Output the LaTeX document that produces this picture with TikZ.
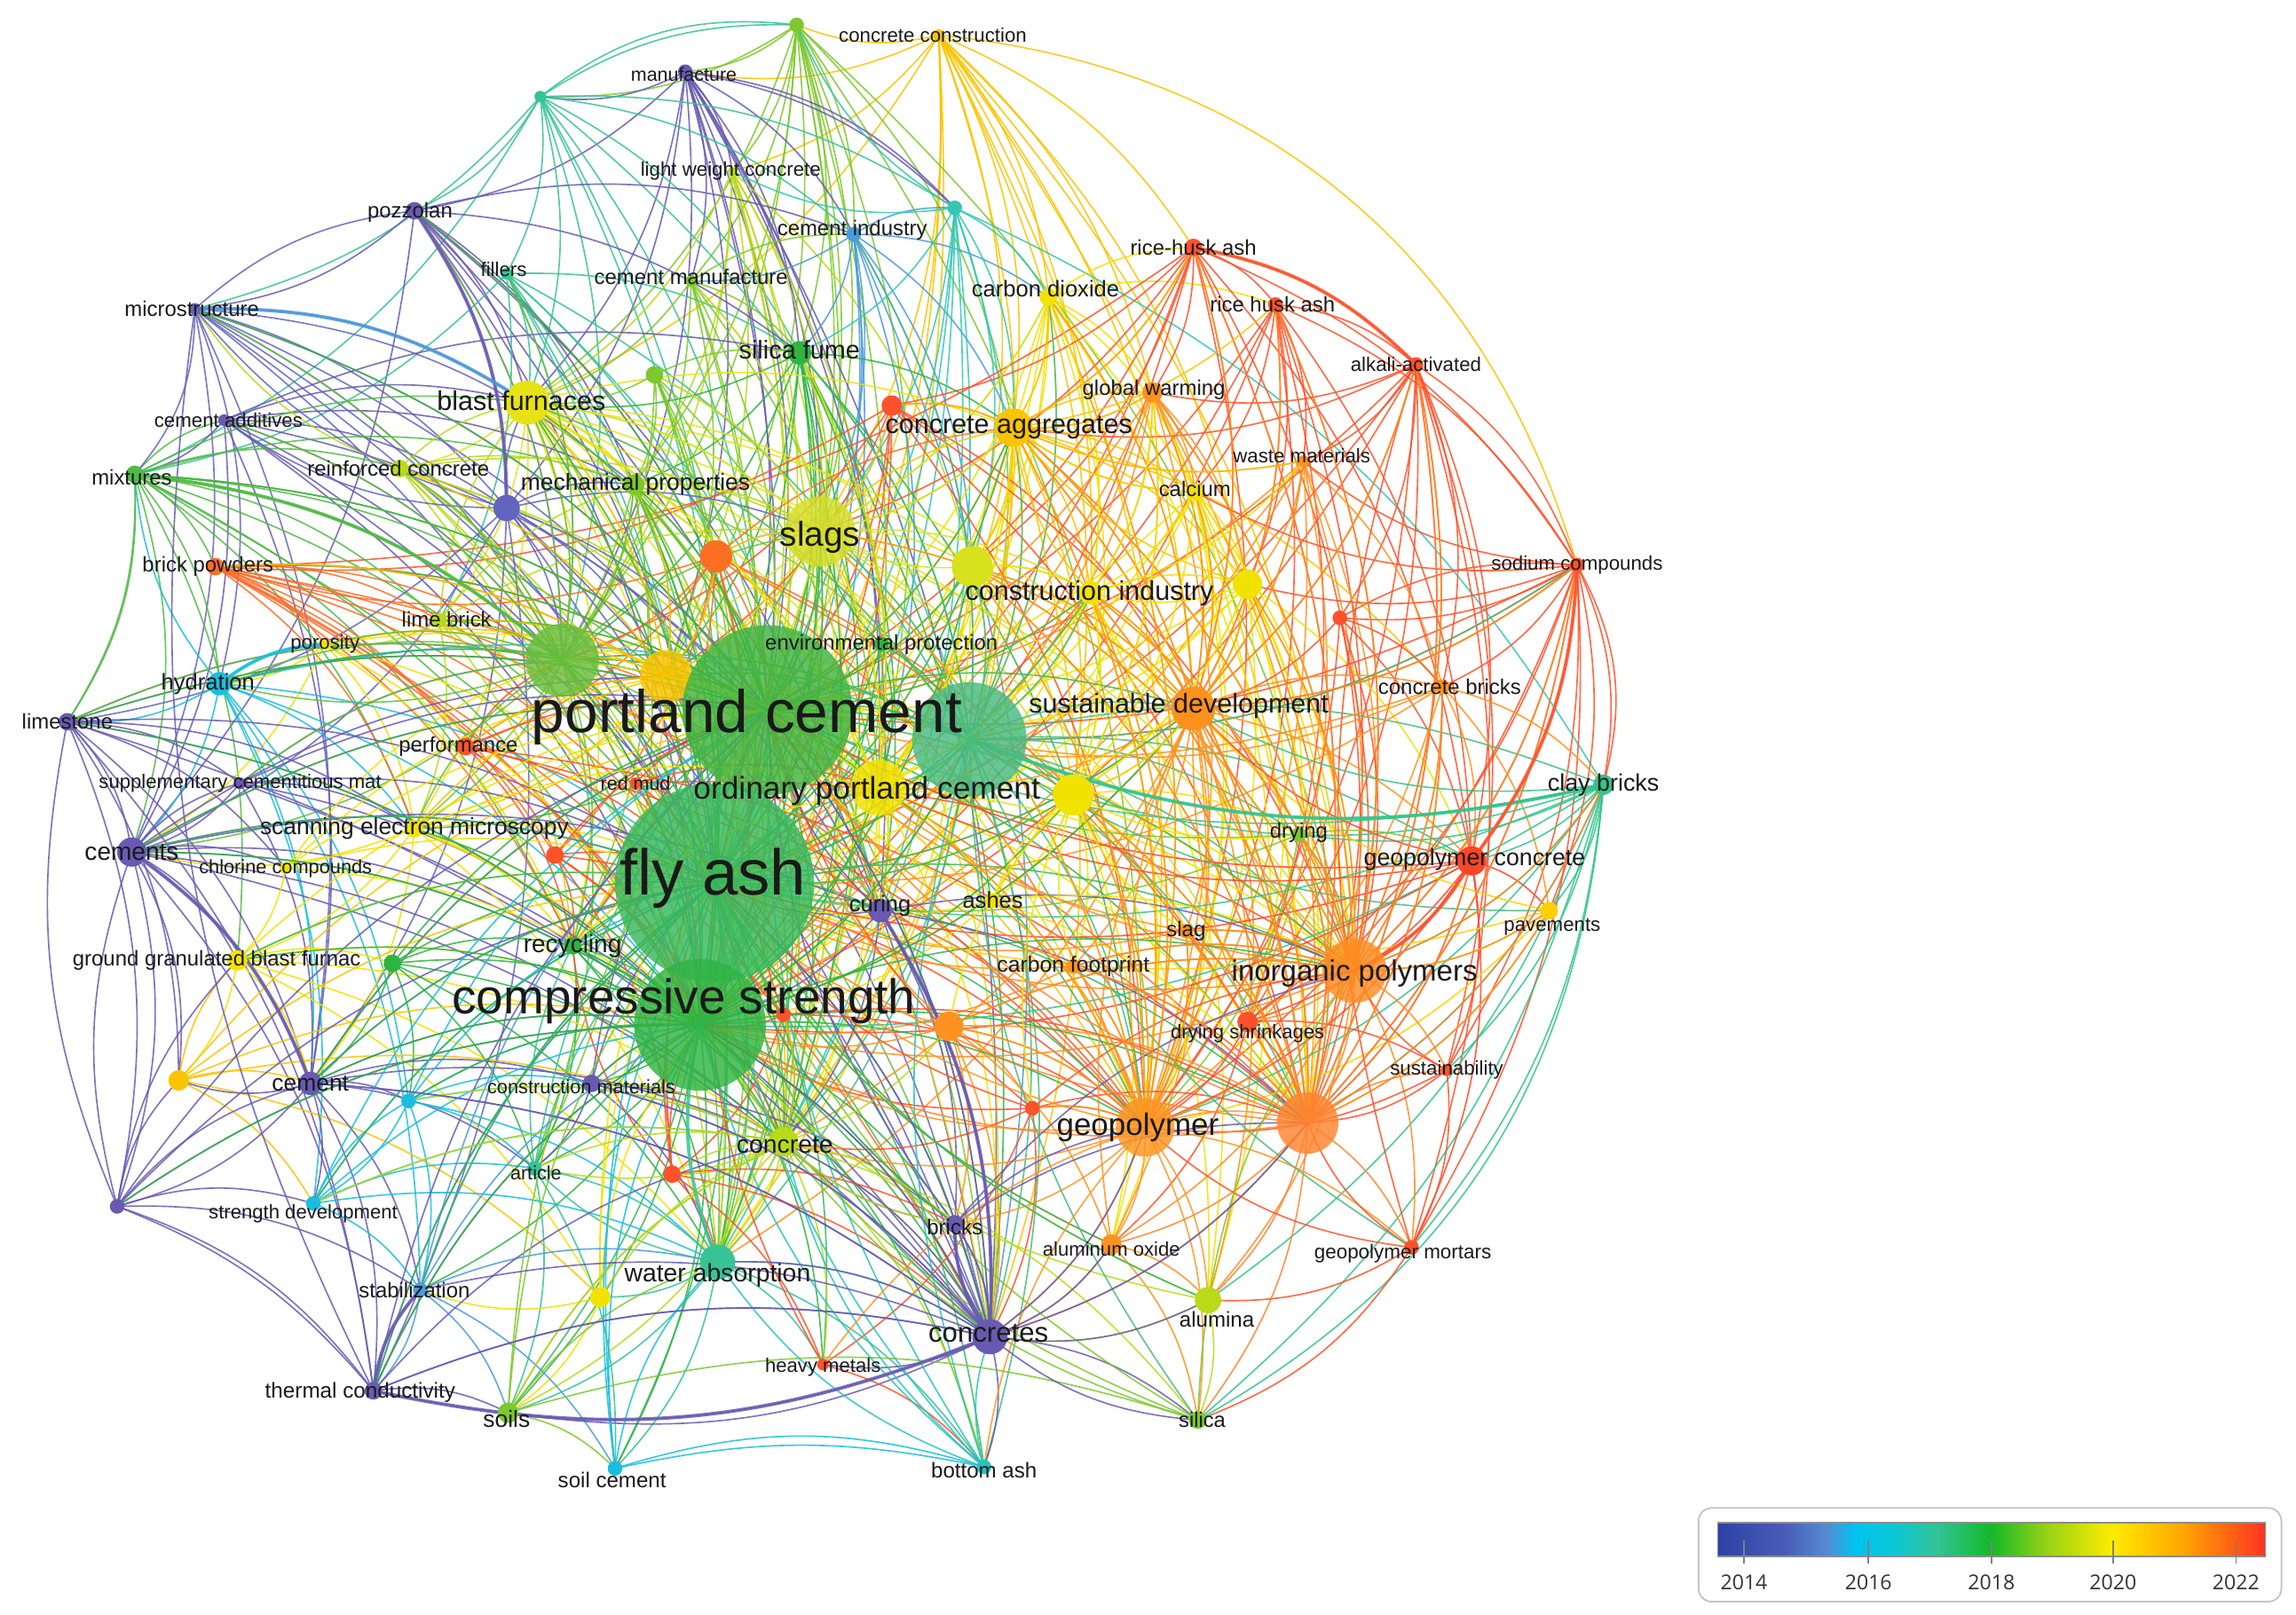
\documentclass[tikz,border=0pt]{standalone}
\usepackage{fontspec}
\setmainfont{Liberation Sans}
\newfontfamily\legfont{Open Sans}
\pgfdeclarelayer{edgelayer}
\pgfdeclarelayer{labellayer}
\pgfsetlayers{edgelayer,main,labellayer}
% palette
\definecolor{k14}{RGB}{104,90,178}
\definecolor{k14b}{RGB}{98,100,192}
\definecolor{k15}{RGB}{75,155,220}
\definecolor{k16}{RGB}{25,190,222}
\definecolor{k17}{RGB}{55,195,150}
\definecolor{k18}{RGB}{45,180,65}
\definecolor{k185}{RGB}{125,200,45}
\definecolor{k19}{RGB}{185,218,25}
\definecolor{k20}{RGB}{242,226,0}
\definecolor{k205}{RGB}{250,196,0}
\definecolor{k21}{RGB}{255,146,30}
\definecolor{k22}{RGB}{255,82,42}
\definecolor{qpc}{RGB}{65,180,65}
\definecolor{qfa}{RGB}{55,184,92}
\definecolor{qcs}{RGB}{48,180,68}
\definecolor{qtt}{RGB}{72,186,128}
\definecolor{qsl}{RGB}{215,222,40}
\definecolor{qg2}{RGB}{105,190,60}
\definecolor{qbf}{RGB}{232,226,20}
\definecolor{qo4}{RGB}{255,132,48}
\definecolor{qgp}{RGB}{255,150,35}
\definecolor{qip}{RGB}{255,140,35}
\definecolor{qmx}{RGB}{80,186,70}
\definecolor{qbp}{RGB}{255,108,40}
\definecolor{qcbk}{RGB}{50,196,140}
\definecolor{qgc}{RGB}{255,70,40}
\definecolor{qpv}{RGB}{255,208,0}
\definecolor{qba}{RGB}{40,196,190}
\definecolor{qtc}{RGB}{50,200,180}
\definecolor{qy1}{RGB}{215,225,30}
\definecolor{qo2}{RGB}{255,110,35}
% legend gradient
\definecolor{lg0}{RGB}{45,65,165}
\definecolor{lg1}{RGB}{72,92,182}
\definecolor{lg2}{RGB}{85,140,210}
\definecolor{lg3}{RGB}{0,195,240}
\definecolor{lg4}{RGB}{10,200,215}
\definecolor{lg5}{RGB}{50,195,150}
\definecolor{lg6}{RGB}{20,185,40}
\definecolor{lg7}{RGB}{150,210,20}
\definecolor{lg8}{RGB}{255,235,0}
\definecolor{lg9}{RGB}{255,165,0}
\definecolor{lg10}{RGB}{255,50,35}
\pgfdeclarehorizontalshading{legbar}{100bp}{color(0bp)=(lg0); color(25bp)=(lg0); color(31bp)=(lg1); color(35bp)=(lg2); color(37.5bp)=(lg3); color(41bp)=(lg4); color(45bp)=(lg5); color(50bp)=(lg6); color(55bp)=(lg7); color(61bp)=(lg8); color(67.5bp)=(lg9); color(75bp)=(lg10); color(100bp)=(lg10)}
\tikzset{
  nd/.style 2 args={circle,inner sep=0pt,draw=none,fill=#1,minimum size=#2},
  big/.style={fill opacity=0.82},
  lab/.style={inner sep=0pt,text=black!90},
  fs/.style={font=\fontsize{#1}{#1}\selectfont},
  edge/.style={line width=1pt,opacity=0.85},
  thick edge/.style={line width=2.4pt,opacity=0.85}
}
\begin{document}
\begin{tikzpicture}[x=1pt,y=-1pt]
\useasboundingbox (0,0) rectangle (1568,1103);
\begin{pgfonlayer}{edgelayer}
\fill[white] (0,0) rectangle (1568,1103);
\end{pgfonlayer}
% ---------- nodes (circles) ----------
\node[nd={k205}{8}] (cc) at (641,24) {};
\node[nd={k185}{10}] (t1) at (544,17) {};
\node[nd={k14}{10}] (mf) at (468,49) {};
\node[nd={k17}{8}] (tn) at (369,66) {};
\node[nd={k19}{6}] (lw) at (500,117) {};
\node[nd={k15}{10}] (ci) at (583,160) {};
\node[nd={qtc}{10}] (tc) at (652,142) {};
\node[nd={k14}{12}] (pz) at (283,144) {};
\node[nd={k17}{8}] (fi) at (346,187) {};
\node[nd={k185}{8}] (cm) at (472,192) {};
\node[nd={k14b}{8}] (ms) at (133,211) {};
\node[nd={k20}{12}] (cd) at (716,203) {};
\node[nd={k22}{12}] (rha) at (815,169) {};
\node[nd={k22}{10}] (rhb) at (871,208) {};
\node[nd={k18}{16}] (sf) at (546,241) {};
\node[nd={k22}{10}] (aa) at (967,249) {};
\node[nd={qbf}{30}] (bf) at (360,275) {};
\node[nd={k14}{8}] (ca) at (153,287) {};
\node[nd={k205}{26}] (cag) at (692,292) {};
\node[nd={k22}{14}] (on1) at (609,277) {};
\node[nd={k21}{14}] (gw) at (787,268) {};
\node[nd={k185}{12}] (g1) at (447,256) {};
\node[nd={qmx}{12}] (mx) at (92,324) {};
\node[nd={k19}{12}] (rc) at (273,320) {};
\node[nd={k185}{14}] (mp) at (433,331) {};
\node[nd={k14b}{18}] (pn) at (346,347) {};
\node[nd={k21}{8}] (wm) at (890,315) {};
\node[nd={k20}{12}] (cal) at (816,336) {};
\node[nd={qsl}{48},big] (sl) at (560,363) {};
\node[nd={qo2}{22}] (o2) at (489,380) {};
\node[nd={qy1}{28}] (y1) at (664,387) {};
\node[nd={k20}{16}] (cin) at (745,405) {};
\node[nd={k20}{20}] (y2) at (852,399) {};
\node[nd={k22}{10}] (r1) at (915,422) {};
\node[nd={k22}{10}] (sc) at (1077,386) {};
\node[nd={qbp}{12}] (bp) at (147,387) {};
\node[nd={k19}{10}] (lb) at (300,424) {};
\node[nd={k20}{8}] (po) at (222,440) {};
\node[nd={qg2}{50},big] (g2) at (384,451) {};
\node[nd={k205}{36},big] (y3) at (455,462) {};
\node[nd={k18}{10}] (ep) at (602,440) {};
\node[nd={k16}{16}] (hy) at (150,467) {};
\node[nd={qpc}{116},big] (pc) at (524,485) {};
\node[nd={qtt}{78},big] (tt) at (662,505) {};
\node[nd={k21}{30}] (sd) at (815,484) {};
\node[nd={k21}{10}] (cb) at (985,469) {};
\node[nd={k14}{12}] (ls) at (46,493) {};
\node[nd={k22}{12}] (pf) at (318,510) {};
\node[nd={k22}{8}] (rm) at (434,535) {};
\node[nd={k20}{38},big] (opc) at (600,538) {};
\node[nd={k20}{28}] (y4) at (733,543) {};
\node[nd={k14}{8}] (scm) at (164,535) {};
\node[nd={qcbk}{14}] (cbk) at (1095,536) {};
\node[nd={k20}{12}] (sem) at (283,566) {};
\node[nd={k185}{10}] (dr) at (887,570) {};
\node[nd={k14}{20}] (ce) at (90,582) {};
\node[nd={qfa}{136},big] (fa) at (488,603) {};
\node[nd={k22}{12}] (r2) at (379,584) {};
\node[nd={k20}{8}] (chl) at (195,593) {};
\node[nd={k14}{16}] (cu) at (601,622) {};
\node[nd={k20}{10}] (as) at (678,615) {};
\node[nd={qgc}{20}] (gc) at (1005,588) {};
\node[nd={k18}{12}] (re) at (391,646) {};
\node[nd={k20}{14}] (gg) at (162,656) {};
\node[nd={k18}{12}] (g3) at (268,658) {};
\node[nd={k21}{10}] (slg) at (810,636) {};
\node[nd={qpv}{12}] (pv) at (1058,622) {};
\node[nd={k21}{10}] (cf) at (733,660) {};
\node[nd={qip}{44},big] (ip) at (925,663) {};
\node[nd={k21}{20}] (o3) at (648,701) {};
\node[nd={k22}{10}] (r3) at (535,693) {};
\node[nd={qcs}{90},big] (cs) at (478,700) {};
\node[nd={k22}{14}] (ds) at (852,698) {};
\node[nd={k22}{8}] (su) at (988,731) {};
\node[nd={k205}{14}] (y5) at (122,738) {};
\node[nd={k14}{16}] (cem) at (212,740) {};
\node[nd={k16}{10}] (cy) at (279,752) {};
\node[nd={k14}{12}] (cmat) at (404,740) {};
\node[nd={k22}{10}] (r4) at (705,757) {};
\node[nd={qgp}{40},big] (gp) at (782,770) {};
\node[nd={qo4}{42},big] (o4) at (893,767) {};
\node[nd={k19}{20}] (co) at (535,780) {};
\node[nd={k22}{12}] (r5) at (459,802) {};
\node[nd={k17}{10}] (ar) at (365,798) {};
\node[nd={k14}{10}] (pu) at (80,824) {};
\node[nd={k16}{10}] (sdv) at (214,822) {};
\node[nd={k14}{12}] (bk) at (652,836) {};
\node[nd={k21}{14}] (ao) at (759,850) {};
\node[nd={k22}{10}] (gm) at (964,852) {};
\node[nd={k17}{24}] (wa) at (490,862) {};
\node[nd={k20}{14}] (y6) at (410,886) {};
\node[nd={k15}{10}] (st) at (287,881) {};
\node[nd={k19}{18}] (al) at (825,888) {};
\node[nd={k14}{24}] (ccs) at (676,913) {};
\node[nd={k22}{8}] (hm) at (562,932) {};
\node[nd={k14}{12}] (tcd) at (255,950) {};
\node[nd={k185}{14}] (so) at (347,965) {};
\node[nd={k185}{12}] (si) at (818,970) {};
\node[nd={k16}{10}] (sce) at (420,1003) {};
\node[nd={qba}{10}] (ba) at (672,1002) {};
% ---------- connectors ----------
\begin{pgfonlayer}{edgelayer}
\foreach \s/\c/\ts in {
cc/k205/{t1,cag,cd,gw,sd,ip,gp,o4,sl,y1,pc,fa,cs,rha,cin,y2,y4,bf,lw,mf,tt},
t1/k185/{mf,tn,pc,fa,cs,sl,bf,sf,cm,lw,opc,g2,y3,mp,ci,co,gp,ip,cag},
mf/k14/{tn,pz,pc,fa,cs,sl,opc,cu,ccs,pn,bf,sf,ci,g2,cm,lw,y3,tc},
tn/k17/{pz,ms,bf,fi,pc,fa,cs,sf,tt,mx,g2,tc,ci,t1},
lw/k19/{pc,fa,cs,sl,bf,y3,g2,opc,mp,co,wa,y1},
ci/k15/{pc,fa,cs,sf,tt,cag,cd,tc,sl,opc,ccs,cm,y1},
tc/qtc/{pc,fa,cs,tt,sf,cd,cag,sl,wa,co,cbk,y1,lw,t1},
pz/k14/{pc,fa,cs,bf,pn,mp,g2,ms,ce,cu,ccs,sf,ci},
fi/k17/{pc,fa,cs,bf,g2,sf,tt,mx,lb,wa,cu},
cm/k185/{pc,fa,cs,sl,bf,g2,opc,sf,y3,ci},
ms/k14b/{pz,pc,fa,cs,g2,bf,ce,pn,mp,cu,hy,ccs,cem},
cd/k20/{pc,fa,cs,sl,cag,gw,sd,y1,gp,o4,ip,cin,y4,opc,tt,rha,rhb,cal},
rha/k22/{rhb,aa,cag,sd,gp,o4,ip,pc,fa,cs,sl,gw,on1,y1,gc,sc,bp},
rhb/k22/{aa,sd,gp,o4,ip,pc,fa,cs,gc,wm,cal,y2,sc,ds},
sf/k18/{pc,fa,cs,sl,opc,tt,g2,y3,bf,mp,cag,cu,ccs,co,wa,re,gp},
aa/k22/{sc,gp,o4,ip,gc,sd,pc,fa,cs,cag,wm,cb,ds,gm,su,r1,gw},
bf/qbf/{pc,fa,cs,sl,opc,g2,y3,mp,cag,sd,gp,ip,y1,o4,tt,co,wa,sem,re,ccs,cu,lb,rc},
ca/k14/{mx,pc,fa,cs,g2,ce,pn,mp,bf,ccs,cem,sf},
cag/k205/{pc,fa,cs,sl,opc,tt,sd,gp,o4,ip,y1,y4,gw,cin,y2,co,wa,ccs,cal,cb},
on1/k22/{pc,fa,cs,sl,gp,o4,ip,sd,cag,g2,y3,bp},
gw/k21/{pc,fa,cs,sd,gp,o4,ip,cag,y2,cal,cin,y4,tt},
g1/k185/{pc,fa,cs,bf,sl,g2,mp,sf,opc,co,wa},
mx/qmx/{pc,fa,cs,g2,bf,mp,ce,ls,hy,bp,rc,lb,sem,re,ca,y3,ccs,gg},
rc/k19/{pc,fa,cs,g2,sl,bf,mp,y3,ms,co,wa,opc},
mp/k185/{pc,fa,cs,sl,opc,g2,y3,re,co,wa,sem,tt,ccs,ar},
pn/k14b/{pc,fa,cs,g2,y3,sl,ce,ccs,cu,ls,cem,tcd,mp,bf,ms,ca},
wm/k21/{pc,fa,cs,sd,gp,o4,ip,cag,y2,cb,ds},
cal/k20/{pc,fa,cs,sd,gp,o4,ip,y2,cag,al,ao},
sl/qsl/{pc,fa,cs,opc,tt,g2,y3,y1,sd,gp,ip,o4,co,wa,ccs,y4,cin,cu,sem,re},
o2/qo2/{pc,fa,cs,sl,g2,y3,pf,bp,re,r2,gp,o4,cag,ds},
y1/qy1/{pc,fa,cs,opc,tt,sd,gp,ip,o4,y4,cin,co},
cin/k20/{pc,fa,cs,sd,gp,o4,ip,tt,opc,y4,y2,al,ao},
y2/k20/{pc,fa,sd,gp,o4,ip,tt,y4,ds,gc,dr},
r1/k22/{sd,gp,o4,ip,gc,cb,sc},
sc/k22/{gc,gp,o4,ip,sd,cb,pv,gm,su,ds,cbk,r1,wm,y2,cal,tt,pc},
bp/qbp/{pc,fa,cs,g2,y3,pf,lb,po,sem,re,r2,gp,o4,co,cu,ccs},
lb/k19/{pc,fa,cs,g2,y3,sl,bf,mp,po,sem,re},
po/k20/{pc,fa,cs,g2,hy,sem,ce,re},
g2/qg2/{pc,fa,cs,sl,opc,tt,y3,sem,re,co,wa,ar,ccs,cu,hy,ce},
y3/k205/{pc,fa,cs,opc,tt,sem,re,co,gp,ip},
ep/k18/{pc,fa,cs,tt,opc,sl},
hy/k16/{pc,fa,cs,ce,ls,po,sem,cem,cy,st,tt,sdv,mx},
pc/qpc/{fa,cs,tt,opc,y4,sd,gp,ip,o4,co,wa,ccs,cu,re,sem},
tt/qtt/{fa,cs,opc,sd,gp,ip,o4,y4,co,wa,ccs,cbk,gc,dr,ba},
sd/k21/{fa,cs,opc,gp,ip,o4,y4,gc,cb,dr,ds,ao,al,slg,cf,wa,co},
cb/k21/{gc,ip,gp,o4,cbk,pv,tt,fa,pc},
ls/k14/{ce,pc,fa,cs,g2,scm,cem,pu,tcd,ccs,sem,chl,y5},
pf/k22/{pc,fa,cs,g2,y3,re,r2,gp,o4},
rm/k22/{pc,fa,cs,opc,gp,ip},
opc/k20/{fa,cs,tt,y4,sd,gp,ip,o4,co,wa,ccs,cu,as},
y4/k20/{fa,cs,gp,ip,o4,as,slg,cf,dr,ao,al},
scm/k14/{ce,pc,fa,cs,g2,sem,cem,ccs},
cbk/qcbk/{gc,pv,tt,ip,gp,o4,fa,pc,cs,sd,y4,dr,su,gm,al,si},
sem/k20/{pc,fa,cs,ce,re,co,wa,cem,gg},
dr/k185/{pc,fa,ip,gp,o4,gc},
ce/k14/{pc,fa,cs,y3,scm,chl,gg,cem,y5,pu,tcd,ccs,cu,re,co},
fa/qfa/{cs,opc,sl,gp,ip,o4,co,wa,ccs,cu,re,ar,ba,so,sce,hm},
r2/k22/{pc,fa,cs,re,r5,co,gp},
chl/k20/{pc,fa,cs,gg,y3,g2},
cu/k14/{pc,fa,cs,ccs,bk,gp,ip,o4,co},
as/k20/{pc,fa,cs,gp,ip,o4,sd},
gc/qgc/{ip,gp,o4,sd,pv,su,gm,ds,fa,pc,cs,opc},
re/k18/{pc,fa,cs,co,wa,ar,ccs},
gg/k20/{pc,fa,cs,cem,y5,co,wa,y6,g3},
g3/k18/{pc,fa,cs,co,wa,ar,re,cy,cem},
slg/k21/{gp,ip,o4,fa,pc},
pv/qpv/{ip,o4,gp,sd,fa},
cf/k21/{gp,ip,o4,fa,pc,cs},
ip/qip/{gp,o4,ds,ao,al,gm,su,fa,cs,pc},
o3/k21/{gp,o4,ip,fa,cs,pc,ccs,bk,r4,ao},
r3/k22/{pc,fa,cs,gp,o4,co,r5},
cs/qcs/{co,wa,ccs,ar,cmat,re,bk,gp,o4,ip,so,sce,ba,hm,st},
ds/k22/{gp,o4,ip,su,ao},
su/k22/{o4,ip,gm,gp},
y5/k205/{cem,gg,sdv,cs,fa,pc,y6,co},
cem/k14/{pc,fa,cs,y5,sdv,tcd,pu,st,cy,co,ccs,ar,cmat},
cy/k16/{pc,fa,cs,sdv,st,ar,cmat,co,wa},
cmat/k14/{pc,fa,cs,co,ccs,bk,wa,ar},
r4/k22/{gp,o4,ip,fa,cs,pc,co,ccs,hm},
gp/qgp/{o4,ao,al,gm,co,ccs,bk,si,fa,cs},
o4/qo4/{ao,al,gm,su,ccs,si,fa,cs,pc},
co/k19/{ccs,wa,bk,hm,ar,r5,ba,si,so},
r5/k22/{pc,fa,cs,wa,hm,re,ccs,bk},
ar/k17/{pc,fa,wa,so,sce,re},
pu/k14/{ce,cem,ls,tcd,sdv,fa,cs,pc,y5,gg,st},
sdv/k16/{pc,fa,cs,st,cy,co,wa,ar},
bk/k14/{ccs,fa,pc,co,gp,o4,ip},
ao/k21/{al,si,ccs,sd,fa},
gm/k22/{o4,gp,al,aa},
wa/k17/{ccs,ar,so,sce,ba,y6,hm},
y6/k20/{pc,fa,cs,so,st},
st/k15/{pc,fa,cs,so,tcd,sce,wa},
al/k19/{si,ccs,fa,cs},
ccs/k14/{bk,hm,ba,tcd,so,si},
hm/k22/{ba,fa},
tcd/k14/{pc,fa,cs,so,st,ccs,co,ms},
so/k185/{pc,fa,co,wa,sce,si},
si/k185/{fa,cs,co,ip},
sce/k16/{ba,fa,cs,pc,wa},
ba/qba/{ccs,co,cs,fa,pc,wa,tt}}{%
  \foreach \t in \ts {
    \draw[edge,draw=\c] (\s.center) to[bend left=17] (\t.center);
  }
}
% further links (drawn with the opposite curvature)
\foreach \s/\c/\ts in {
pc/qpc/{sl,y3,g2,bf,cag,y1,cin,mp,lb,hy,ce,ls,cem,bp,mx,pz,ms},
fa/qfa/{sl,y3,g2,bf,cag,y1,cin,sd,y4,tt,mp,ce,cem,gg,tcd,st,sdv,ccs,bk,al,ao},
cs/qcs/{sl,y3,g2,bf,y1,tt,opc,sd,y4,mp,ce,cem,ls,pu,tcd,gg,sem,cmat,cy},
tt/qtt/{sl,y3,g2,bf,cag,y1,cin,cd,sf,ci,sc,pv,gm,si},
sd/k21/{sl,y1,cag,cin,y2,cd,gw,rha,rhb,aa,sc,wm,cal,ip,gp,o4},
gp/qgp/{sl,y1,cin,cag,cd,opc,y4,as,cf,slg,cu,r4,o3,hm,ba},
ip/qip/{y1,cin,cag,y2,gw,rhb,aa,sc,cb,pv,cbk,dr,slg,cf,o3},
o4/qo4/{y1,cin,cag,y2,y4,sd,aa,rha,sc,gc,cbk,pv,cb,slg,cf,dr},
opc/k20/{sl,y3,g2,y1,cag,cin,sem,re,mp,bf,sf},
sl/qsl/{bf,mp,g1,sf,cm,cag,cd,on1,o2,y1},
y3/k205/{bf,mp,lb,po,bp,sem,g2,sl,o2,pf,rc},
g2/qg2/{bf,mp,lb,rc,mx,po,ca,ms,pz,fi,hy,ls,sem,scm},
cag/k205/{cd,gw,cal,wm,y2,rha,rhb,on1,sl,cin},
y4/k20/{sd,cin,y2,cal,gw,dr,slg,cf,as,r4,o3},
cin/k20/{y1,y2,cal,wm,gw,cd,sd},
co/k19/{wa,ar,y6,r5,r3,o3,bk,cmat,sdv,cy,so},
ccs/k14/{cs,fa,pc,co,wa,cu,cmat,cem,tcd,st,bk,ao,al,si,gp,o4}}{%
  \foreach \t in \ts {
    \draw[edge,draw=\c] (\s.center) to[bend right=17] (\t.center);
  }
}
% long outer arcs
\foreach \s/\t/\c/\b in {cc/sc/k205/34,tn/t1/k17/22,mf/tc/k14/20,mx/ls/qmx/18,pu/tcd/k14/14,sc/cbk/k22/22,cbk/si/qcbk/28,gm/si/k22/18,sce/ba/k16/12,ms/mx/k14b/20}{%
  \draw[edge,draw=\c] (\s.center) to[bend left=\b] (\t.center);
}
\foreach \s/\t/\c in {cbk/tt/qcbk,ccs/tcd/k14,tcd/st/k14,ccs/bk/k14,pz/pn/k14,ms/bf/k15,rha/aa/k22,sc/gc/k22,gc/ip/k22,mx/g2/qmx,hy/po/k16,cu/ccs/k14,ce/cem/k14,wa/cs/k17}{%
  \draw[thick edge,draw=\c] (\s.center) to[bend left=17] (\t.center);
}
\end{pgfonlayer}
% ---------- labels ----------
\begin{pgfonlayer}{labellayer}
\node[lab,fs=13.5] (cc-l) at (637,24) {concrete construction};
\node[lab,fs=13] (mf-l) at (467,51) {manufacture};
\node[lab,fs=13.5] (lw-l) at (499,117) {light weight concrete};
\node[lab,fs=14.5] (ci-l) at (582,157) {cement industry};
\node[lab,fs=14.5] (pz-l) at (280,145) {pozzolan};
\node[lab,fs=13.5] (fi-l) at (344,184) {fillers};
\node[lab,fs=14.5] (cm-l) at (472,189) {cement manufacture};
\node[lab,fs=14.5] (ms-l) at (131,211) {microstructure};
\node[lab,fs=15.5] (cd-l) at (714,197) {carbon dioxide};
\node[lab,fs=14.5] (rha-l) at (815,169) {rice-husk ash};
\node[lab,fs=14.5] (rhb-l) at (869,208) {rice husk ash};
\node[lab,fs=17.5] (sf-l) at (546,239) {silica fume};
\node[lab,fs=13.5] (aa-l) at (967,249) {alkali-activated};
\node[lab,fs=18.5] (bf-l) at (356,274) {blast furnaces};
\node[lab,fs=13.5] (ca-l) at (156,287) {cement additives};
\node[lab,fs=18.5] (cag-l) at (689,292) {concrete aggregates};
\node[lab,fs=14.5] (gw-l) at (788,266) {global warming};
\node[lab,fs=14.5] (mx-l) at (90,326) {mixtures};
\node[lab,fs=14.5] (rc-l) at (272,320) {reinforced concrete};
\node[lab,fs=16] (mp-l) at (434,331) {mechanical properties};
\node[lab,fs=13.5] (wm-l) at (889,311) {waste materials};
\node[lab,fs=14.5] (cal-l) at (816,334) {calcium};
\node[lab,fs=23.5] (sl-l) at (560,367) {slags};
\node[lab,fs=18.5] (cin-l) at (744,405) {construction industry};
\node[lab,fs=13.5] (sc-l) at (1077,386) {sodium compounds};
\node[lab,fs=14.5] (bp-l) at (142,387) {brick powders};
\node[lab,fs=14.5] (lb-l) at (305,423) {lime brick};
\node[lab,fs=13.5] (po-l) at (222,440) {porosity};
\node[lab,fs=14.5] (ep-l) at (602,440) {environmental protection};
\node[lab,fs=15.5] (hy-l) at (142,467) {hydration};
\node[lab,fs=41] (pc-l) at (510,490) {portland cement};
\node[lab,fs=18.5] (sd-l) at (805,482) {sustainable development};
\node[lab,fs=14.5] (cb-l) at (990,469) {concrete bricks};
\node[lab,fs=14.5] (ls-l) at (46,493) {limestone};
\node[lab,fs=14.5] (pf-l) at (313,510) {performance};
\node[lab,fs=13] (rm-l) at (434,535) {red mud};
\node[lab,fs=21.4] (opc-l) at (592,540) {ordinary portland cement};
\node[lab,fs=13.4] (scm-l) at (164,535) {supplementary cementitious mat};
\node[lab,fs=16.3] (cbk-l) at (1095,536) {clay bricks};
\node[lab,fs=16] (sem-l) at (283,566) {scanning electron microscopy};
\node[lab,fs=14.5] (dr-l) at (887,569) {drying};
\node[lab,fs=17] (ce-l) at (90,582) {cements};
\node[lab,fs=44] (fa-l) at (487,600) {fly ash};
\node[lab,fs=13.2] (chl-l) at (195,593) {chlorine compounds};
\node[lab,fs=15.5] (cu-l) at (601,619) {curing};
\node[lab,fs=15.5] (as-l) at (678,615) {ashes};
\node[lab,fs=16.2] (gc-l) at (1007,587) {geopolymer concrete};
\node[lab,fs=17] (re-l) at (391,646) {recycling};
\node[lab,fs=14.5] (gg-l) at (148,656) {ground granulated blast furnac};
\node[lab,fs=14.5] (slg-l) at (810,636) {slag};
\node[lab,fs=13.5] (pv-l) at (1060,633) {pavements};
\node[lab,fs=15] (cf-l) at (733,660) {carbon footprint};
\node[lab,fs=20] (ip-l) at (925,665) {inorganic polymers};
\node[lab,fs=33.3] (cs-l) at (467,684) {compressive strength};
\node[lab,fs=13.4] (ds-l) at (852,706) {drying shrinkages};
\node[lab,fs=13.5] (su-l) at (988,731) {sustainability};
\node[lab,fs=16] (cem-l) at (212,740) {cement};
\node[lab,fs=13.2] (cmat-l) at (397,742) {construction materials};
\node[lab,fs=21.2] (gp-l) at (777,770) {geopolymer};
\node[lab,fs=17.2] (co-l) at (536,782) {concrete};
\node[lab,fs=13.1] (ar-l) at (366,801) {article};
\node[lab,fs=13.4] (sdv-l) at (207,829) {strength development};
\node[lab,fs=14.6] (bk-l) at (652,838) {bricks};
\node[lab,fs=13.4] (ao-l) at (759,853) {aluminum oxide};
\node[lab,fs=13.6] (gm-l) at (958,856) {geopolymer mortars};
\node[lab,fs=17.2] (wa-l) at (490,871) {water absorption};
\node[lab,fs=14.5] (st-l) at (283,881) {stabilization};
\node[lab,fs=14.6] (al-l) at (831,901) {alumina};
\node[lab,fs=18.9] (ccs-l) at (675,911) {concretes};
\node[lab,fs=13.4] (hm-l) at (562,934) {heavy metals};
\node[lab,fs=14.7] (tcd-l) at (246,951) {thermal conductivity};
\node[lab,fs=16] (so-l) at (346,969) {soils};
\node[lab,fs=14.4] (si-l) at (821,970) {silica};
\node[lab,fs=14.6] (sce-l) at (418,1011) {soil cement};
\node[lab,fs=14.6] (ba-l) at (672,1004) {bottom ash};
\end{pgfonlayer}
% ---------- legend ----------
\draw[rounded corners=9pt,draw=black!22,fill=white,line width=1.2pt] (1160,1030) rectangle (1558,1094);
\shade[shading=legbar] (1173,1040) rectangle (1547,1063);
\draw[draw=black!45,line width=1pt] (1173,1040) rectangle (1547,1063);
\foreach \x/\yr in {1191/2014,1276/2016,1360/2018,1443/2020,1527/2022}{%
  \draw[draw=black!50,line width=1pt] (\x,1052) -- (\x,1068);
  \node[inner sep=0pt,text=black!80,font=\legfont\fontsize{14}{14}\selectfont] (yr\yr) at (\x,1081) {\yr};
}
\end{tikzpicture}
\end{document}
